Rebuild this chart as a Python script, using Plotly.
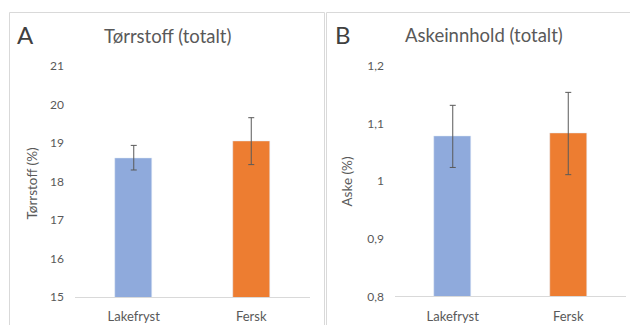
import plotly.graph_objects as go

# Layout positions are given in page pixels and converted to paper fractions.
W = 630
H = 341
TOP = 8                 # vertical offset of the plotting surface on the page
H_EFF = H - 2 * TOP     # height available to the figure on the page

categories = ["Lakefryst", "Fersk"]
bar_colors = ["#8faadc", "#ed7d31"]

# Panel A: dry matter
dry_values = [18.62, 19.05]
dry_errors = [0.32, 0.61]
dry_ticks = [15, 16, 17, 18, 19, 20, 21]

# Panel B: ash content
ash_values = [1.078, 1.083]
ash_errors = [0.054, 0.0715]
ash_ticks = [0.8, 0.9, 1.0, 1.1, 1.2]
ash_ticktext = ["0,8", "0,9", "1", "1,1", "1,2"]

FONT = "Lato"
GREY = "#595959"
BORDER = "#d9d9d9"


def px(x):
    return x / W


def py(y):
    return 1 - (y - TOP) / H_EFF


fig = go.Figure()

fig.add_trace(go.Bar(
    x=categories, y=dry_values, marker_color=bar_colors, width=0.315,
    error_y=dict(type="data", array=dry_errors, color=GREY, thickness=1, width=3),
    xaxis="x", yaxis="y", showlegend=False,
))
fig.add_trace(go.Bar(
    x=categories, y=ash_values, marker_color=bar_colors, width=0.32,
    error_y=dict(type="data", array=ash_errors, color=GREY, thickness=1, width=3),
    xaxis="x2", yaxis="y2", showlegend=False,
))

common_x = dict(
    type="category", range=[-0.5, 1.5], showline=True, linecolor=BORDER, linewidth=1,
    ticks="", showgrid=False, zeroline=False, ticklabelstandoff=8,
    tickfont=dict(family=FONT, size=13, color=GREY),
)
common_y = dict(
    showline=False, ticks="", showgrid=False, zeroline=False,
    tickfont=dict(family=FONT, size=12, color=GREY), ticklabelstandoff=10,
)

fig.update_layout(
    width=W, height=H, margin=dict(l=0, r=0, t=0, b=0),
    paper_bgcolor="white", plot_bgcolor="white",
    bargap=0,
    xaxis=dict(common_x, domain=[px(75), px(310)], anchor="y"),
    yaxis=dict(common_y, domain=[py(296), py(66)], range=[15, 21],
               tickvals=dry_ticks, anchor="x"),
    xaxis2=dict(common_x, domain=[px(395), px(626)], anchor="y2"),
    yaxis2=dict(common_y, domain=[py(295.5), py(66)], range=[0.8, 1.2],
                tickvals=ash_ticks, ticktext=ash_ticktext, anchor="x2"),
)

# Panel frames
fig.add_shape(type="rect", xref="paper", yref="paper",
              x0=px(9.5), x1=px(324.5), y0=py(345), y1=py(12.5),
              line=dict(color=BORDER, width=1), layer="below")
fig.add_shape(type="rect", xref="paper", yref="paper",
              x0=px(326.5), x1=px(640), y0=py(345), y1=py(12.5),
              line=dict(color=BORDER, width=1), layer="below")

annots = [
    dict(text="A", x=px(25.5), y=py(34), size=24, color="#404040"),
    dict(text="B", x=px(343), y=py(34), size=24, color="#404040"),
    dict(text="Tørrstoff (totalt)", x=px(167), y=py(36), size=18.5, color=GREY),
    dict(text="Askeinnhold (totalt)", x=px(484), y=py(35), size=18.5, color=GREY),
]
for a in annots:
    fig.add_annotation(text=a["text"], x=a["x"], y=a["y"], xref="paper", yref="paper",
                       xanchor="center", yanchor="middle", showarrow=False,
                       font=dict(family=FONT, size=a["size"], color=a["color"]))

fig.add_annotation(text="Tørrstoff (%)", x=px(32), y=py(183), xref="paper", yref="paper",
                   textangle=-90, showarrow=False, xanchor="center", yanchor="middle",
                   font=dict(family=FONT, size=13.5, color=GREY))
fig.add_annotation(text="Aske (%)", x=px(347), y=py(181), xref="paper", yref="paper",
                   textangle=-90, showarrow=False, xanchor="center", yanchor="middle",
                   font=dict(family=FONT, size=13.5, color=GREY))

fig.write_html("out.html", config={"displayModeBar": False})
